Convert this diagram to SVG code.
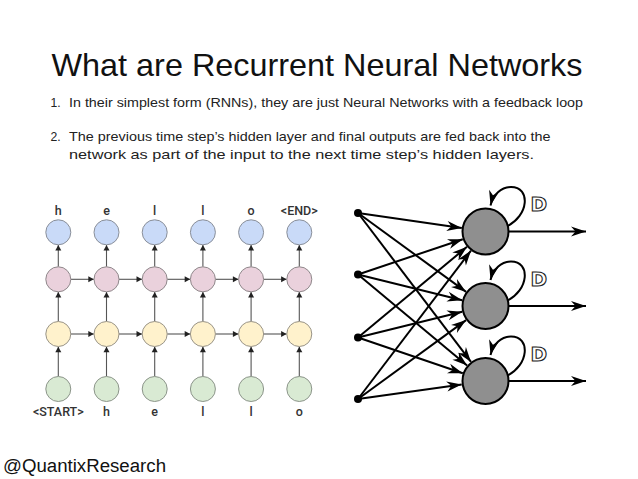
<svg xmlns="http://www.w3.org/2000/svg" width="638" height="479" viewBox="0 0 638 479">
<style>
.title{font-family:"Liberation Sans",Arial,sans-serif;font-size:31.5px;fill:#111}
.body{font-family:"Liberation Sans",Arial,sans-serif;font-size:12.2px;fill:#222}
.foot{font-family:"Liberation Sans",Arial,sans-serif;font-size:18px;fill:#111}
.lbl{font-family:Roboto,"Liberation Sans",sans-serif;font-size:12.5px;font-weight:500;fill:#333;text-anchor:middle}
.out{fill:#c9daf8;stroke:#8a8f99;stroke-width:1}
.hid2{fill:#ead1dc;stroke:#8f888b;stroke-width:1}
.hid1{fill:#fff2cc;stroke:#999488;stroke-width:1}
.inp{fill:#d9ead3;stroke:#8c958a;stroke-width:1}
.ga{stroke:#555;stroke-width:1.1;fill:none;marker-end:url(#sa)}
.edge{stroke:#000;stroke-width:2;fill:none;marker-end:url(#ba)}
.neuron{fill:#8f8f8f;stroke:#000;stroke-width:2}
.dot{fill:#000}
.D{font-family:"DejaVu Sans","Liberation Sans",sans-serif;font-size:20px;font-weight:bold;fill:#fff;stroke:#222;stroke-width:1.1}
</style>
<defs>
<marker id="sa" markerWidth="8" markerHeight="8" viewBox="-6 -4 7 8" refX="0" refY="0" orient="auto" markerUnits="userSpaceOnUse">
<path d="M0,0 L-5.5,-3 L-5.5,3 z" fill="#222"/>
</marker>
<marker id="ba" markerWidth="18" markerHeight="12" viewBox="-16 -6 17 12" refX="0" refY="0" orient="auto" markerUnits="userSpaceOnUse">
<path d="M0,0 L-15,-5 L-10.5,0 L-15,5 z" fill="#000"/>
</marker>
</defs>
<rect width="638" height="479" fill="#fff"/>

<g id="text">
<text class="title" x="51.5" y="76" textLength="531" lengthAdjust="spacingAndGlyphs">What are Recurrent Neural Networks</text>
<text class="body" x="50.5" y="107.3">1.</text>
<text class="body" x="69" y="107.3" textLength="514" lengthAdjust="spacingAndGlyphs">In their simplest form (RNNs), they are just Neural Networks with a feedback loop</text>
<text class="body" x="50.5" y="140.7">2.</text>
<text class="body" x="69" y="140.7" textLength="481.5" lengthAdjust="spacingAndGlyphs">The previous time step’s hidden layer and final outputs are fed back into the</text>
<text class="body" x="69" y="159" textLength="465" lengthAdjust="spacingAndGlyphs">network as part of the input to the next time step’s hidden layers.</text>
<text class="foot" x="3" y="471.7" textLength="163" lengthAdjust="spacingAndGlyphs">@QuantixResearch</text>
</g>

<g id="grid-connectors">
<path class="ga" d="M58.3,376.5 V346.8"/><path class="ga" d="M106.5,376.5 V346.8"/><path class="ga" d="M154.7,376.5 V346.8"/><path class="ga" d="M202.9,376.5 V346.8"/><path class="ga" d="M251.1,376.5 V346.8"/><path class="ga" d="M299.3,376.5 V346.8"/>
<path class="ga" d="M58.3,321.5 V292"/><path class="ga" d="M106.5,321.5 V292"/><path class="ga" d="M154.7,321.5 V292"/><path class="ga" d="M202.9,321.5 V292"/><path class="ga" d="M251.1,321.5 V292"/><path class="ga" d="M299.3,321.5 V292"/>
<path class="ga" d="M58.3,266.8 V245"/><path class="ga" d="M106.5,266.8 V245"/><path class="ga" d="M154.7,266.8 V245"/><path class="ga" d="M202.9,266.8 V245"/><path class="ga" d="M251.1,266.8 V245"/><path class="ga" d="M299.3,266.8 V245"/>
<path class="ga" d="M70.8,279.3 H93.8"/><path class="ga" d="M119,279.3 H142"/><path class="ga" d="M167.2,279.3 H190.2"/><path class="ga" d="M215.4,279.3 H238.4"/><path class="ga" d="M263.6,279.3 H286.6"/>
<path class="ga" d="M70.8,334 H93.8"/><path class="ga" d="M119,334 H142"/><path class="ga" d="M167.2,334 H190.2"/><path class="ga" d="M215.4,334 H238.4"/><path class="ga" d="M263.6,334 H286.6"/>
</g>

<g id="grid-out">
<circle class="out" cx="58.3" cy="232.3" r="12.5"/><circle class="out" cx="106.5" cy="232.3" r="12.5"/><circle class="out" cx="154.7" cy="232.3" r="12.5"/><circle class="out" cx="202.9" cy="232.3" r="12.5"/><circle class="out" cx="251.1" cy="232.3" r="12.5"/><circle class="out" cx="299.3" cy="232.3" r="12.5"/>
</g>
<g id="grid-hidden2">
<circle class="hid2" cx="58.3" cy="279.3" r="12.5"/><circle class="hid2" cx="106.5" cy="279.3" r="12.5"/><circle class="hid2" cx="154.7" cy="279.3" r="12.5"/><circle class="hid2" cx="202.9" cy="279.3" r="12.5"/><circle class="hid2" cx="251.1" cy="279.3" r="12.5"/><circle class="hid2" cx="299.3" cy="279.3" r="12.5"/>
</g>
<g id="grid-hidden1">
<circle class="hid1" cx="58.3" cy="334" r="12.5"/><circle class="hid1" cx="106.5" cy="334" r="12.5"/><circle class="hid1" cx="154.7" cy="334" r="12.5"/><circle class="hid1" cx="202.9" cy="334" r="12.5"/><circle class="hid1" cx="251.1" cy="334" r="12.5"/><circle class="hid1" cx="299.3" cy="334" r="12.5"/>
</g>
<g id="grid-in">
<circle class="inp" cx="58.3" cy="389" r="12.5"/><circle class="inp" cx="106.5" cy="389" r="12.5"/><circle class="inp" cx="154.7" cy="389" r="12.5"/><circle class="inp" cx="202.9" cy="389" r="12.5"/><circle class="inp" cx="251.1" cy="389" r="12.5"/><circle class="inp" cx="299.3" cy="389" r="12.5"/>
</g>
<g id="grid-labels">
<text class="lbl" x="58.3" y="215">h</text><text class="lbl" x="106.5" y="215">e</text><text class="lbl" x="154.7" y="215">l</text><text class="lbl" x="202.9" y="215">l</text><text class="lbl" x="251.1" y="215">o</text><text class="lbl" x="299.3" y="215">&lt;END&gt;</text>
<text class="lbl" x="58.3" y="416">&lt;START&gt;</text><text class="lbl" x="106.5" y="416">h</text><text class="lbl" x="154.7" y="416">e</text><text class="lbl" x="202.9" y="416">l</text><text class="lbl" x="251.1" y="416">l</text><text class="lbl" x="299.3" y="416">o</text>
</g>

<g id="net-connectors">
<path class="edge" d="M358,213 L461.8,228.1"/>
<path class="edge" d="M358,213 L466.1,291.9"/>
<path class="edge" d="M358,213 L471,361.9"/>
<path class="edge" d="M358,274.5 L462.8,239.2"/>
<path class="edge" d="M358,274.5 L462.2,300.2"/>
<path class="edge" d="M358,274.5 L467.1,365.6"/>
<path class="edge" d="M358,337.5 L467,246.8"/>
<path class="edge" d="M358,337.5 L462.2,311.8"/>
<path class="edge" d="M358,337.5 L462.8,373.3"/>
<path class="edge" d="M358,399 L471,250.6"/>
<path class="edge" d="M358,399 L466.1,320.1"/>
<path class="edge" d="M358,399 L461.7,384.4"/>
<path class="edge" d="M508.5,231.5 H586"/>
<path class="edge" d="M508.5,306 H586"/>
<path class="edge" d="M508.5,381 H586"/>
<path class="edge" d="M506.5,226.5 C529,216 531,187 511,187 C501,187 493,195 490.5,205.5"/>
<path class="edge" d="M506.5,301 C529,290.5 531,261.5 511,261.5 C501,261.5 493,269.5 490.5,280"/>
<path class="edge" d="M506.5,376 C529,365.5 531,336.5 511,336.5 C501,336.5 493,344.5 490.5,355"/>
</g>

<g id="in1"><circle class="dot" cx="358" cy="213" r="4"/></g>
<g id="in2"><circle class="dot" cx="358" cy="274.5" r="4"/></g>
<g id="in3"><circle class="dot" cx="358" cy="337.5" r="4"/></g>
<g id="in4"><circle class="dot" cx="358" cy="399" r="4"/></g>
<g id="n1"><circle class="neuron" cx="485.5" cy="231.5" r="23"/><text class="D" x="530.5" y="211">D</text></g>
<g id="n2"><circle class="neuron" cx="485.5" cy="306" r="23"/><text class="D" x="530.5" y="285.5">D</text></g>
<g id="n3"><circle class="neuron" cx="485.5" cy="381" r="23"/><text class="D" x="530.5" y="360.5">D</text></g>
</svg>
